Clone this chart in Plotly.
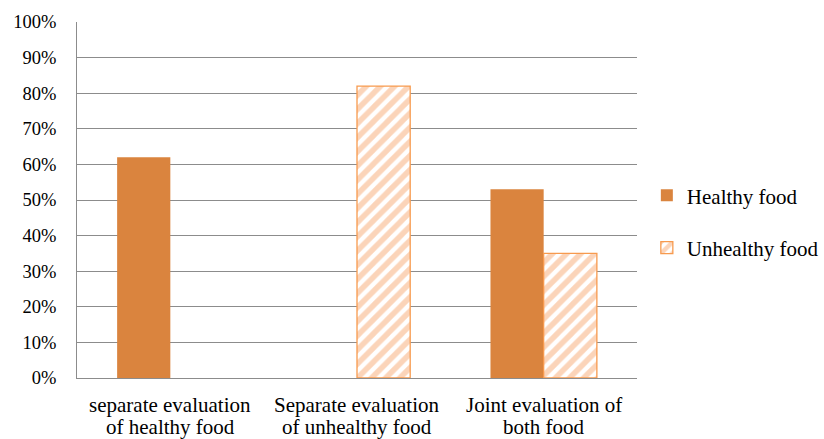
import plotly.graph_objects as go

categories = ["c1", "c2", "c3"]
category_lines = [["separate evaluation", "of healthy food"],
                  ["Separate evaluation", "of unhealthy food"],
                  ["Joint evaluation of", "both food"]]
healthy = [0.62, None, 0.53]
unhealthy = [None, 0.82, 0.35]
y_ticks = [i / 10 for i in range(11)]
y_labels = [f"{i*10}%" for i in range(11)]

FAM = "Liberation Serif, Times New Roman, serif"
font = dict(family=FAM, size=21, color="#000000")
tick_font = dict(family=FAM, size=18.5, color="#000000")

fig = go.Figure()
fig.add_trace(go.Bar(
    x=categories, y=healthy, name="Healthy food", legendgroup="a",
    marker=dict(color="#DA843E", line=dict(color="#DA843E", width=0)),
))
fig.add_trace(go.Bar(
    x=categories, y=unhealthy, name="Unhealthy food", legendgroup="b",
    marker=dict(color="white",
                line=dict(color="#F79A4E", width=1.3),
                pattern=dict(shape="/", fgcolor="#F8AA74", bgcolor="white",
                             size=10, solidity=0.55)),
))

annotations = []
for cat, lines in zip(categories, category_lines):
    for i, line in enumerate(lines):
        annotations.append(dict(
            x=cat, xref="x", y=0, yref="paper", text=line, showarrow=False,
            xanchor="center", yanchor="middle", yshift=-27 - 22 * i,
            font=font))

fig.update_layout(
    width=824, height=439,
    margin=dict(l=77, r=187, t=22, b=61, autoexpand=False),
    paper_bgcolor="white", plot_bgcolor="white",
    font=font,
    barmode="group", bargap=0.43, bargroupgap=0,
    showlegend=True,
    legend=dict(xref="container", yref="container",
                x=0.785, y=0.495, xanchor="left", yanchor="middle",
                font=font, tracegroupgap=22, itemwidth=30,
                bgcolor="rgba(0,0,0,0)", traceorder="grouped"),
    xaxis=dict(showline=True, linecolor="#8c8c8c", linewidth=1,
               ticks="", showticklabels=False, showgrid=False,
               automargin=False),
    yaxis=dict(range=[0, 1], tickvals=y_ticks, ticktext=y_labels,
               showgrid=True, gridcolor="#8c8c8c", gridwidth=1,
               showline=True, linecolor="#8c8c8c", linewidth=1,
               ticks="", tickfont=tick_font, ticklabelstandoff=16,
               zeroline=False, automargin=False),
    annotations=annotations,
)

fig.write_html("out.html", config={"displayModeBar": False},
               post_script="document.body.style.margin='0';")
